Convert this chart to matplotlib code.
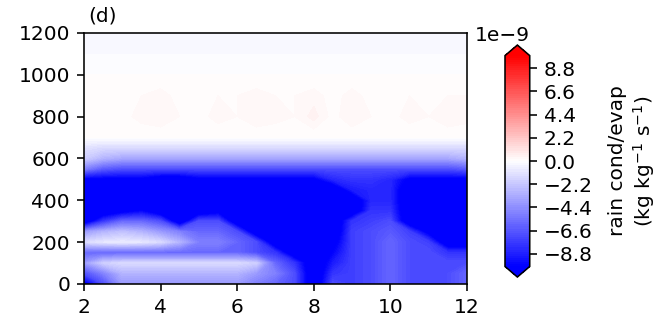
# rain condensation / evaporation section, panel (d)

import numpy as np
import matplotlib
matplotlib.use('Agg')
import matplotlib.pyplot as plt

# grid
x = [2, 2.5, 3, 3.5, 4, 4.5, 5, 5.5, 6, 6.5, 7, 7.5, 8, 8.5, 9, 9.5, 10, 10.5, 11, 11.5, 12]
z = [0, 50, 100, 150, 200, 250, 300, 350, 400, 450, 500, 550, 600, 650, 700, 800, 900, 1000, 1100, 1200]
scale = 1e-9

# values in units of 1e-9 kg/kg/s, one row per height
rate = [
    [-11, -7, -4, -4, -4, -4, -4, -4, -4, -5, -6, -7, -12, -7, -7.5, -7, -6, -7, -7, -7, -6],
    [-7, -5, -3, -3, -3, -3, -3, -3, -3, -4, -5, -7, -12, -8, -7.5, -7, -6, -7, -7, -7, -6],
    [-4, -2, -1.5, -1.5, -1.5, -1.5, -1.5, -1.5, -1.5, -2, -6, -8, -12, -9, -7.5, -7, -6, -7, -7, -7, -7],
    [-6, -6, -6, -6, -6, -6, -6, -6, -6, -7, -8, -12, -12, -10, -7.5, -7, -6, -7, -7, -8, -8],
    [-1.5, -1, -0.8, -1, -1.5, -3, -5, -5, -6, -7, -12, -12, -12, -11, -7.5, -7, -6, -7, -7.5, -12, -12],
    [-4, -3, -2.5, -3, -4, -5, -6, -6, -7, -12, -12, -12, -12, -12, -7.5, -7, -6.5, -7.5, -11, -12, -12],
    [-12, -8, -6, -6, -7, -12, -7, -7, -12, -12, -12, -12, -12, -12, -8, -7.5, -7, -12, -12, -12, -12],
    [-12, -12, -11, -10, -12, -12, -12, -11, -12, -12, -12, -12, -12, -12, -12, -8, -8, -12, -12, -12, -12],
    [-12, -12, -12, -12, -12, -12, -12, -12, -12, -12, -12, -12, -12, -12, -12, -8.5, -8.5, -12, -12, -12, -12],
    [-12, -12, -12, -12, -12, -12, -12, -12, -12, -12, -12, -12, -12, -12, -9, -8.5, -8.5, -12, -12, -12, -12],
    [-10.5, -10.5, -10.5, -10.5, -11.5, -11.5, -10.5, -10.5, -10.5, -10.5, -10.5, -10.5, -10.5, -8.5, -8, -8, -8.5, -10.5, -10.5, -10.5, -10.5],
    [-5, -6.5, -7, -7, -7, -7, -7, -7, -7, -7, -7, -7, -7, -7, -7, -7, -7, -7, -7, -7, -6.5],
    [-2, -3, -3.5, -3.5, -3.5, -3.5, -3.5, -3.5, -3.5, -3.5, -3.5, -3.5, -3.5, -3.5, -3.5, -3.5, -3.5, -3.5, -3.5, -3.5, -3],
    [-1.2, -1.5, -1.5, -1.5, -1.5, -1.5, -1.5, -1.5, -1.5, -1.5, -1.5, -1.5, -1.5, -1.5, -1.5, -1.5, -1.5, -1.5, -1.5, -1.5, -1.5],
    [0, 0, 0, 0, 0, 0, 0, 0, 0, 0, 0, 0, 0, 0, 0, 0, 0, 0, 0, 0, 0],
    [0.2, 0.2, 0.1, 0.3, 0.4, 0.2, 0.1, 0.3, 0.2, 0.4, 0.3, 0.2, 0.5, 0.1, 0.4, 0.2, 0.1, 0.3, 0.2, 0.4, 0.3],
    [0.1, 0.2, 0.1, 0.2, 0.3, 0.1, 0.1, 0.2, 0.2, 0.3, 0.2, 0.2, 0.3, 0.1, 0.3, 0.1, 0.1, 0.2, 0.1, 0.2, 0.2],
    [0, 0, 0, 0, 0, 0, 0, 0, 0, 0, 0, 0, 0, 0, 0, 0, 0, 0, 0, 0, 0],
    [-0.2, -0.2, -0.2, -0.2, -0.2, -0.2, -0.2, -0.2, -0.2, -0.2, -0.2, -0.2, -0.2, -0.2, -0.2, -0.2, -0.2, -0.2, -0.2, -0.2, -0.2],
    [-0.3, -0.3, -0.3, -0.3, -0.3, -0.3, -0.3, -0.3, -0.3, -0.3, -0.3, -0.3, -0.3, -0.3, -0.3, -0.3, -0.3, -0.3, -0.3, -0.3, -0.3],
]

cbar_ticks = [-8.8, -6.6, -4.4, -2.2, 0.0, 2.2, 4.4, 6.6, 8.8]

# the reference looks like a default figure scaled up by ~1.43
plt.rcParams['font.size'] = 14.5
plt.rcParams['axes.linewidth'] = 1.15
for a in ('xtick', 'ytick'):
    plt.rcParams[a + '.major.size'] = 5
    plt.rcParams[a + '.major.width'] = 1.15
    plt.rcParams[a + '.major.pad'] = 5

fig = plt.figure(figsize=(6.68, 3.29), dpi=100)
ax = fig.add_axes([0.1257, 0.137, 0.5733, 0.763])
cax = fig.add_axes([0.756, 0.158, 0.037, 0.705])

levels = np.linspace(-1e-8, 1e-8, 101)
cf = ax.contourf(x, z, np.array(rate) * scale, levels=levels, cmap='bwr', extend='both')
ax.set_xlim(2, 12)
ax.set_ylim(0, 1200)
ax.set_xticks([2, 4, 6, 8, 10, 12])
ax.set_yticks([0, 200, 400, 600, 800, 1000, 1200])
ax.text(0.012, 1.045, '(d)', transform=ax.transAxes, va='baseline')

cb = fig.colorbar(cf, cax=cax, extend='both')
cb.set_ticks(np.array(cbar_ticks) * scale)
cb.set_label('rain cond/evap\n(kg kg$^{-1}$ s$^{-1}$)', labelpad=11)

fig.savefig('out.png', dpi=100)
